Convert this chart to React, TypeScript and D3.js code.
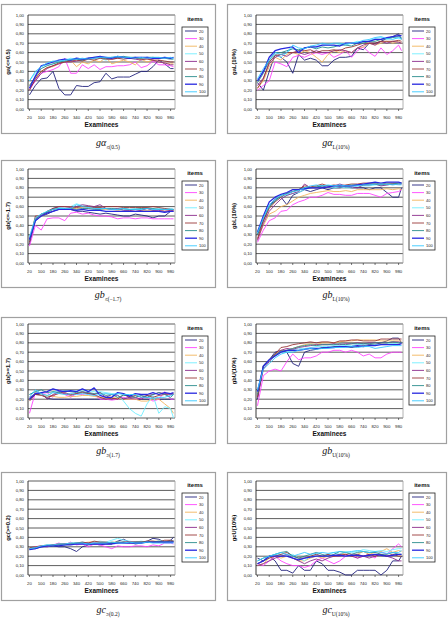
import * as d3 from "d3";
import { useEffect } from "react";

// examinees (category axis), every other category of the original
const examinees = [20, 60, 100, 140, 180, 220, 260, 300, 340, 380, 420, 460, 500, 540, 580, 620, 660, 700, 740, 780, 820, 860, 900, 940, 980, 1000];
const xTicks = [20, 100, 180, 260, 340, 420, 500, 580, 660, 740, 820, 900, 980];
const yTicks = [0, 0.1, 0.2, 0.3, 0.4, 0.5, 0.6, 0.7, 0.8, 0.9, 1.0];
const items = ["20", "30", "40", "50", "60", "70", "80", "90", "100"];
const colors = ["#22227e", "#ff44ff", "#f2b45c", "#70eeff", "#8c2c8c", "#9a3838", "#2a8c8c", "#2828e0", "#34c8ff"];
const widths = [0.9, 0.9, 0.9, 0.9, 0.9, 0.9, 0.9, 1.3, 0.9];

// ga(<=0.5)
const gaLe = [
  [0.15, 0.25, 0.32, 0.33, 0.40, 0.22, 0.15, 0.15, 0.25, 0.24, 0.24, 0.28, 0.29, 0.38, 0.32, 0.34, 0.34, 0.34, 0.37, 0.40, 0.40, 0.45, 0.52, 0.48, 0.43, 0.43],
  [0.20, 0.30, 0.38, 0.40, 0.42, 0.45, 0.54, 0.38, 0.38, 0.47, 0.43, 0.47, 0.42, 0.45, 0.45, 0.46, 0.46, 0.47, 0.50, 0.44, 0.46, 0.51, 0.47, 0.47, 0.46, 0.45],
  [0.25, 0.33, 0.40, 0.44, 0.45, 0.48, 0.50, 0.52, 0.45, 0.50, 0.48, 0.52, 0.50, 0.55, 0.48, 0.50, 0.52, 0.50, 0.47, 0.53, 0.50, 0.52, 0.50, 0.49, 0.48, 0.48],
  [0.30, 0.38, 0.45, 0.47, 0.48, 0.50, 0.52, 0.54, 0.53, 0.52, 0.54, 0.53, 0.54, 0.52, 0.54, 0.55, 0.54, 0.55, 0.54, 0.54, 0.55, 0.54, 0.54, 0.55, 0.54, 0.54],
  [0.22, 0.30, 0.38, 0.43, 0.46, 0.48, 0.50, 0.50, 0.51, 0.52, 0.53, 0.54, 0.55, 0.54, 0.53, 0.54, 0.55, 0.54, 0.53, 0.52, 0.54, 0.52, 0.50, 0.49, 0.47, 0.47],
  [0.20, 0.32, 0.40, 0.44, 0.46, 0.49, 0.50, 0.51, 0.52, 0.51, 0.53, 0.52, 0.54, 0.53, 0.53, 0.54, 0.53, 0.54, 0.54, 0.53, 0.53, 0.52, 0.52, 0.51, 0.50, 0.50],
  [0.25, 0.34, 0.43, 0.46, 0.48, 0.50, 0.51, 0.52, 0.53, 0.52, 0.54, 0.55, 0.55, 0.54, 0.55, 0.55, 0.56, 0.55, 0.55, 0.54, 0.55, 0.55, 0.54, 0.54, 0.53, 0.53],
  [0.22, 0.35, 0.46, 0.48, 0.50, 0.52, 0.53, 0.52, 0.54, 0.53, 0.54, 0.55, 0.56, 0.55, 0.54, 0.56, 0.55, 0.54, 0.55, 0.55, 0.55, 0.54, 0.54, 0.55, 0.54, 0.55],
  [0.30, 0.40, 0.45, 0.49, 0.51, 0.51, 0.52, 0.53, 0.53, 0.54, 0.53, 0.54, 0.55, 0.55, 0.55, 0.56, 0.55, 0.55, 0.54, 0.55, 0.54, 0.55, 0.55, 0.54, 0.55, 0.54],
];

// gaL(10%)
const gaL = [
  [0.28, 0.20, 0.40, 0.58, 0.55, 0.50, 0.38, 0.58, 0.52, 0.54, 0.52, 0.46, 0.46, 0.52, 0.55, 0.55, 0.56, 0.65, 0.63, 0.70, 0.70, 0.72, 0.75, 0.77, 0.80, 0.74],
  [0.20, 0.25, 0.30, 0.50, 0.48, 0.45, 0.55, 0.57, 0.55, 0.58, 0.60, 0.58, 0.60, 0.55, 0.58, 0.62, 0.55, 0.62, 0.66, 0.60, 0.56, 0.65, 0.58, 0.62, 0.68, 0.62],
  [0.22, 0.30, 0.45, 0.55, 0.52, 0.58, 0.60, 0.58, 0.62, 0.60, 0.55, 0.50, 0.58, 0.62, 0.60, 0.62, 0.60, 0.65, 0.66, 0.70, 0.68, 0.70, 0.72, 0.70, 0.72, 0.70],
  [0.30, 0.40, 0.50, 0.58, 0.55, 0.60, 0.65, 0.62, 0.65, 0.66, 0.65, 0.68, 0.68, 0.67, 0.69, 0.68, 0.70, 0.72, 0.70, 0.73, 0.75, 0.76, 0.74, 0.76, 0.75, 0.74],
  [0.25, 0.33, 0.48, 0.55, 0.58, 0.56, 0.60, 0.60, 0.58, 0.60, 0.62, 0.60, 0.60, 0.62, 0.63, 0.62, 0.60, 0.65, 0.68, 0.70, 0.68, 0.72, 0.70, 0.72, 0.71, 0.70],
  [0.22, 0.32, 0.50, 0.57, 0.58, 0.60, 0.60, 0.62, 0.62, 0.63, 0.60, 0.62, 0.62, 0.63, 0.62, 0.65, 0.66, 0.68, 0.70, 0.70, 0.70, 0.72, 0.72, 0.72, 0.73, 0.72],
  [0.28, 0.38, 0.52, 0.60, 0.60, 0.62, 0.64, 0.63, 0.65, 0.66, 0.64, 0.66, 0.65, 0.66, 0.68, 0.68, 0.67, 0.70, 0.70, 0.72, 0.72, 0.74, 0.75, 0.76, 0.77, 0.76],
  [0.30, 0.40, 0.55, 0.62, 0.64, 0.65, 0.66, 0.60, 0.65, 0.66, 0.66, 0.68, 0.68, 0.68, 0.67, 0.70, 0.70, 0.70, 0.72, 0.72, 0.74, 0.74, 0.76, 0.77, 0.78, 0.78],
  [0.32, 0.43, 0.52, 0.60, 0.58, 0.60, 0.68, 0.65, 0.64, 0.67, 0.68, 0.70, 0.69, 0.70, 0.70, 0.69, 0.70, 0.71, 0.73, 0.74, 0.76, 0.77, 0.75, 0.74, 0.76, 0.75],
];

// gb(<=-1.7)
const gbLe = [
  [0.20, 0.45, 0.50, 0.52, 0.55, 0.57, 0.58, 0.57, 0.55, 0.55, 0.54, 0.53, 0.52, 0.53, 0.52, 0.51, 0.50, 0.50, 0.52, 0.51, 0.50, 0.48, 0.50, 0.50, 0.55, 0.55],
  [0.18, 0.40, 0.35, 0.47, 0.48, 0.48, 0.45, 0.53, 0.54, 0.52, 0.53, 0.51, 0.50, 0.50, 0.49, 0.47, 0.48, 0.48, 0.47, 0.48, 0.48, 0.47, 0.47, 0.47, 0.47, 0.47],
  [0.25, 0.48, 0.50, 0.53, 0.57, 0.58, 0.58, 0.58, 0.58, 0.59, 0.58, 0.58, 0.58, 0.57, 0.57, 0.56, 0.57, 0.56, 0.57, 0.56, 0.56, 0.56, 0.57, 0.55, 0.56, 0.56],
  [0.25, 0.45, 0.50, 0.55, 0.58, 0.59, 0.60, 0.60, 0.63, 0.61, 0.60, 0.59, 0.58, 0.58, 0.57, 0.58, 0.57, 0.57, 0.58, 0.57, 0.58, 0.57, 0.58, 0.57, 0.58, 0.57],
  [0.22, 0.47, 0.52, 0.54, 0.58, 0.60, 0.60, 0.59, 0.60, 0.62, 0.61, 0.60, 0.62, 0.58, 0.57, 0.58, 0.56, 0.56, 0.55, 0.56, 0.58, 0.56, 0.56, 0.55, 0.56, 0.56],
  [0.22, 0.50, 0.50, 0.55, 0.58, 0.60, 0.60, 0.60, 0.59, 0.60, 0.60, 0.59, 0.59, 0.60, 0.60, 0.60, 0.59, 0.59, 0.59, 0.59, 0.59, 0.60, 0.59, 0.58, 0.57, 0.57],
  [0.24, 0.46, 0.52, 0.54, 0.57, 0.58, 0.58, 0.58, 0.57, 0.58, 0.58, 0.57, 0.57, 0.58, 0.58, 0.57, 0.58, 0.57, 0.57, 0.58, 0.58, 0.58, 0.57, 0.57, 0.57, 0.57],
  [0.25, 0.45, 0.50, 0.53, 0.55, 0.57, 0.57, 0.57, 0.56, 0.57, 0.56, 0.56, 0.56, 0.55, 0.55, 0.55, 0.55, 0.55, 0.55, 0.55, 0.55, 0.55, 0.55, 0.54, 0.55, 0.55],
  [0.28, 0.48, 0.52, 0.55, 0.57, 0.58, 0.58, 0.58, 0.62, 0.60, 0.59, 0.58, 0.58, 0.58, 0.57, 0.57, 0.58, 0.57, 0.57, 0.57, 0.58, 0.57, 0.57, 0.57, 0.57, 0.57],
];

// gbL(10%)
const gbL = [
  [0.30, 0.45, 0.60, 0.68, 0.70, 0.62, 0.72, 0.75, 0.78, 0.76, 0.78, 0.80, 0.78, 0.80, 0.80, 0.81, 0.80, 0.80, 0.80, 0.78, 0.80, 0.80, 0.75, 0.70, 0.70, 0.80],
  [0.22, 0.35, 0.45, 0.48, 0.55, 0.56, 0.62, 0.65, 0.67, 0.70, 0.70, 0.72, 0.75, 0.73, 0.73, 0.72, 0.72, 0.74, 0.74, 0.74, 0.72, 0.70, 0.74, 0.75, 0.76, 0.78],
  [0.25, 0.40, 0.52, 0.55, 0.60, 0.62, 0.66, 0.70, 0.72, 0.74, 0.75, 0.76, 0.77, 0.76, 0.76, 0.77, 0.76, 0.78, 0.78, 0.78, 0.78, 0.78, 0.79, 0.78, 0.79, 0.78],
  [0.32, 0.48, 0.60, 0.66, 0.70, 0.72, 0.74, 0.75, 0.78, 0.80, 0.81, 0.82, 0.80, 0.80, 0.81, 0.80, 0.80, 0.82, 0.82, 0.82, 0.83, 0.83, 0.83, 0.84, 0.83, 0.83],
  [0.24, 0.42, 0.55, 0.62, 0.68, 0.72, 0.74, 0.76, 0.84, 0.80, 0.80, 0.82, 0.80, 0.82, 0.84, 0.82, 0.81, 0.80, 0.83, 0.83, 0.84, 0.82, 0.83, 0.84, 0.84, 0.84],
  [0.26, 0.45, 0.58, 0.65, 0.70, 0.74, 0.76, 0.78, 0.82, 0.81, 0.82, 0.84, 0.82, 0.83, 0.82, 0.83, 0.84, 0.84, 0.85, 0.85, 0.85, 0.84, 0.85, 0.85, 0.85, 0.85],
  [0.30, 0.48, 0.60, 0.66, 0.72, 0.74, 0.76, 0.78, 0.80, 0.80, 0.81, 0.82, 0.82, 0.82, 0.82, 0.82, 0.83, 0.83, 0.83, 0.84, 0.84, 0.83, 0.84, 0.84, 0.85, 0.85],
  [0.33, 0.50, 0.65, 0.70, 0.73, 0.75, 0.78, 0.78, 0.79, 0.80, 0.80, 0.80, 0.81, 0.82, 0.82, 0.82, 0.82, 0.83, 0.84, 0.85, 0.86, 0.85, 0.86, 0.86, 0.86, 0.85],
  [0.32, 0.48, 0.62, 0.68, 0.72, 0.73, 0.76, 0.77, 0.80, 0.82, 0.83, 0.82, 0.83, 0.82, 0.83, 0.82, 0.82, 0.82, 0.83, 0.83, 0.84, 0.84, 0.84, 0.83, 0.84, 0.84],
];

// gb(>=1.7)
const gbGe = [
  [0.20, 0.25, 0.25, 0.21, 0.20, 0.20, 0.20, 0.20, 0.20, 0.20, 0.20, 0.20, 0.20, 0.20, 0.20, 0.21, 0.21, 0.21, 0.20, 0.20, 0.20, 0.20, 0.20, 0.20, 0.20, 0.20],
  [0.05, 0.27, 0.26, 0.27, 0.22, 0.30, 0.25, 0.22, 0.26, 0.25, 0.27, 0.25, 0.20, 0.20, 0.19, 0.20, 0.22, 0.20, 0.20, 0.21, 0.22, 0.18, 0.20, 0.28, 0.20, 0.20],
  [0.20, 0.27, 0.25, 0.24, 0.23, 0.22, 0.22, 0.23, 0.23, 0.24, 0.24, 0.23, 0.22, 0.22, 0.22, 0.21, 0.20, 0.20, 0.20, 0.18, 0.18, 0.20, 0.20, 0.15, 0.10, 0.05],
  [0.25, 0.28, 0.25, 0.22, 0.28, 0.28, 0.29, 0.28, 0.29, 0.30, 0.29, 0.28, 0.28, 0.27, 0.26, 0.25, 0.18, 0.10, 0.05, 0.02, 0.15, 0.24, 0.05, 0.12, 0.10, 0.00],
  [0.22, 0.25, 0.27, 0.20, 0.25, 0.28, 0.26, 0.24, 0.26, 0.28, 0.26, 0.25, 0.27, 0.22, 0.25, 0.24, 0.20, 0.22, 0.22, 0.20, 0.24, 0.25, 0.27, 0.26, 0.25, 0.25],
  [0.18, 0.25, 0.24, 0.22, 0.24, 0.26, 0.27, 0.25, 0.26, 0.27, 0.26, 0.25, 0.22, 0.20, 0.21, 0.20, 0.25, 0.22, 0.24, 0.22, 0.24, 0.22, 0.24, 0.25, 0.26, 0.26],
  [0.25, 0.28, 0.30, 0.27, 0.28, 0.27, 0.29, 0.28, 0.27, 0.28, 0.27, 0.26, 0.27, 0.24, 0.25, 0.22, 0.24, 0.24, 0.22, 0.24, 0.22, 0.25, 0.27, 0.25, 0.22, 0.25],
  [0.20, 0.26, 0.27, 0.28, 0.31, 0.29, 0.28, 0.29, 0.28, 0.31, 0.28, 0.32, 0.24, 0.22, 0.22, 0.27, 0.26, 0.23, 0.26, 0.25, 0.25, 0.27, 0.25, 0.27, 0.26, 0.27],
  [0.22, 0.30, 0.26, 0.24, 0.27, 0.26, 0.25, 0.26, 0.25, 0.26, 0.25, 0.24, 0.25, 0.26, 0.25, 0.26, 0.25, 0.25, 0.25, 0.22, 0.22, 0.21, 0.22, 0.22, 0.24, 0.25],
];

// gbU(10%)
const gbU = [
  [0.20, 0.55, 0.62, 0.70, 0.72, 0.70, 0.58, 0.55, 0.70, 0.72, 0.73, 0.75, 0.75, 0.76, 0.76, 0.76, 0.75, 0.76, 0.77, 0.78, 0.78, 0.80, 0.82, 0.85, 0.85, 0.80],
  [0.13, 0.45, 0.50, 0.52, 0.50, 0.60, 0.68, 0.62, 0.64, 0.64, 0.66, 0.70, 0.70, 0.72, 0.72, 0.70, 0.72, 0.70, 0.66, 0.68, 0.64, 0.64, 0.68, 0.70, 0.70, 0.70],
  [0.25, 0.55, 0.62, 0.68, 0.72, 0.72, 0.74, 0.76, 0.78, 0.79, 0.78, 0.80, 0.80, 0.80, 0.81, 0.82, 0.82, 0.83, 0.83, 0.83, 0.83, 0.82, 0.82, 0.82, 0.82, 0.82],
  [0.28, 0.54, 0.60, 0.66, 0.70, 0.70, 0.72, 0.74, 0.74, 0.75, 0.76, 0.76, 0.76, 0.77, 0.77, 0.77, 0.77, 0.78, 0.78, 0.77, 0.78, 0.78, 0.79, 0.79, 0.80, 0.80],
  [0.22, 0.52, 0.60, 0.67, 0.72, 0.74, 0.73, 0.75, 0.76, 0.77, 0.78, 0.78, 0.78, 0.79, 0.78, 0.79, 0.79, 0.80, 0.79, 0.80, 0.80, 0.80, 0.80, 0.81, 0.81, 0.80],
  [0.22, 0.55, 0.62, 0.68, 0.75, 0.76, 0.78, 0.79, 0.80, 0.81, 0.80, 0.81, 0.81, 0.80, 0.82, 0.82, 0.83, 0.83, 0.82, 0.82, 0.82, 0.84, 0.84, 0.84, 0.84, 0.84],
  [0.25, 0.56, 0.62, 0.67, 0.71, 0.72, 0.74, 0.76, 0.77, 0.78, 0.77, 0.78, 0.78, 0.78, 0.79, 0.78, 0.79, 0.79, 0.79, 0.79, 0.80, 0.80, 0.80, 0.81, 0.80, 0.80],
  [0.28, 0.55, 0.62, 0.66, 0.70, 0.72, 0.72, 0.72, 0.73, 0.74, 0.74, 0.74, 0.75, 0.75, 0.76, 0.76, 0.76, 0.77, 0.76, 0.77, 0.77, 0.78, 0.78, 0.78, 0.78, 0.79],
  [0.30, 0.52, 0.58, 0.64, 0.68, 0.70, 0.70, 0.72, 0.73, 0.74, 0.73, 0.74, 0.74, 0.75, 0.75, 0.75, 0.76, 0.75, 0.76, 0.76, 0.74, 0.75, 0.76, 0.77, 0.77, 0.77],
];

// gc(>=0.2)
const gcGe = [
  [0.28, 0.28, 0.30, 0.30, 0.31, 0.30, 0.30, 0.28, 0.25, 0.30, 0.32, 0.33, 0.32, 0.33, 0.33, 0.36, 0.38, 0.35, 0.33, 0.34, 0.36, 0.39, 0.38, 0.35, 0.37, 0.40],
  [0.28, 0.30, 0.31, 0.30, 0.32, 0.34, 0.32, 0.35, 0.32, 0.33, 0.30, 0.33, 0.32, 0.30, 0.28, 0.31, 0.30, 0.30, 0.31, 0.31, 0.30, 0.32, 0.31, 0.34, 0.34, 0.33],
  [0.28, 0.29, 0.31, 0.32, 0.32, 0.33, 0.33, 0.34, 0.34, 0.34, 0.35, 0.35, 0.35, 0.34, 0.35, 0.35, 0.34, 0.35, 0.35, 0.35, 0.36, 0.36, 0.36, 0.36, 0.36, 0.36],
  [0.27, 0.29, 0.30, 0.32, 0.32, 0.33, 0.33, 0.34, 0.34, 0.35, 0.34, 0.35, 0.36, 0.35, 0.37, 0.39, 0.37, 0.36, 0.35, 0.36, 0.35, 0.35, 0.36, 0.36, 0.35, 0.35],
  [0.27, 0.29, 0.30, 0.31, 0.32, 0.32, 0.33, 0.33, 0.33, 0.34, 0.34, 0.34, 0.34, 0.34, 0.34, 0.34, 0.35, 0.35, 0.35, 0.35, 0.35, 0.35, 0.35, 0.35, 0.35, 0.36],
  [0.29, 0.30, 0.31, 0.31, 0.32, 0.33, 0.33, 0.33, 0.34, 0.35, 0.34, 0.36, 0.35, 0.35, 0.34, 0.34, 0.35, 0.35, 0.35, 0.35, 0.36, 0.36, 0.35, 0.37, 0.37, 0.36],
  [0.28, 0.29, 0.30, 0.31, 0.31, 0.32, 0.32, 0.33, 0.34, 0.34, 0.33, 0.33, 0.34, 0.34, 0.34, 0.35, 0.35, 0.34, 0.35, 0.35, 0.35, 0.35, 0.36, 0.35, 0.36, 0.36],
  [0.27, 0.28, 0.30, 0.31, 0.31, 0.31, 0.32, 0.32, 0.33, 0.33, 0.33, 0.33, 0.33, 0.33, 0.33, 0.34, 0.34, 0.34, 0.34, 0.34, 0.35, 0.35, 0.35, 0.35, 0.35, 0.35],
  [0.28, 0.29, 0.31, 0.32, 0.32, 0.33, 0.33, 0.34, 0.34, 0.34, 0.33, 0.34, 0.34, 0.34, 0.35, 0.34, 0.34, 0.35, 0.34, 0.34, 0.35, 0.34, 0.34, 0.34, 0.34, 0.34],
];

// gcU(10%)
const gcU = [
  [0.18, 0.15, 0.20, 0.15, 0.05, 0.05, 0.02, 0.10, 0.05, 0.05, 0.15, 0.12, 0.05, 0.05, 0.03, 0.00, 0.00, 0.05, 0.05, 0.05, 0.05, 0.00, 0.05, 0.15, 0.15, 0.20],
  [0.12, 0.10, 0.15, 0.20, 0.15, 0.12, 0.10, 0.10, 0.08, 0.10, 0.15, 0.18, 0.15, 0.12, 0.15, 0.20, 0.22, 0.18, 0.20, 0.22, 0.18, 0.25, 0.22, 0.28, 0.33, 0.30],
  [0.10, 0.12, 0.18, 0.20, 0.18, 0.20, 0.18, 0.15, 0.15, 0.18, 0.20, 0.18, 0.20, 0.20, 0.22, 0.24, 0.22, 0.22, 0.25, 0.22, 0.24, 0.25, 0.28, 0.24, 0.26, 0.25],
  [0.12, 0.15, 0.18, 0.22, 0.22, 0.20, 0.22, 0.18, 0.15, 0.20, 0.22, 0.20, 0.22, 0.24, 0.22, 0.25, 0.24, 0.25, 0.27, 0.26, 0.25, 0.26, 0.25, 0.27, 0.28, 0.28],
  [0.10, 0.12, 0.15, 0.18, 0.20, 0.22, 0.18, 0.15, 0.12, 0.15, 0.17, 0.15, 0.18, 0.20, 0.20, 0.22, 0.20, 0.18, 0.20, 0.18, 0.20, 0.22, 0.20, 0.18, 0.15, 0.15],
  [0.12, 0.15, 0.18, 0.20, 0.22, 0.24, 0.20, 0.18, 0.18, 0.20, 0.22, 0.20, 0.22, 0.20, 0.22, 0.22, 0.20, 0.22, 0.20, 0.22, 0.20, 0.22, 0.20, 0.22, 0.20, 0.20],
  [0.15, 0.18, 0.20, 0.22, 0.24, 0.25, 0.20, 0.18, 0.20, 0.22, 0.24, 0.22, 0.20, 0.22, 0.25, 0.24, 0.22, 0.24, 0.25, 0.24, 0.24, 0.22, 0.22, 0.24, 0.22, 0.22],
  [0.12, 0.15, 0.20, 0.20, 0.20, 0.20, 0.18, 0.16, 0.18, 0.19, 0.20, 0.20, 0.20, 0.21, 0.21, 0.20, 0.21, 0.21, 0.20, 0.21, 0.22, 0.21, 0.20, 0.21, 0.22, 0.22],
  [0.15, 0.18, 0.20, 0.22, 0.24, 0.22, 0.20, 0.22, 0.24, 0.22, 0.23, 0.24, 0.23, 0.24, 0.25, 0.24, 0.25, 0.26, 0.25, 0.24, 0.25, 0.24, 0.23, 0.24, 0.24, 0.26],
];

const yLabels = ["ga(<=0.5)", "gaL(10%)", "gb(<=-1.7)", "gbL(10%)", "gb(>=1.7)", "gbU(10%)", "gc(>=0.2)", "gcU(10%)"];
const capMain = ["gα", "gα", "gb", "gb", "gb", "gb", "gc", "gc"];
const capSub = ["≤(0.5)", "L(10%)", "≤(−1.7)", "L(10%)", "≥(1.7)", "U(10%)", "≥(0.2)", "U(10%)"];
const panelData = [gaLe, gaL, gbLe, gbL, gbGe, gbU, gcGe, gcU];

const rowTop = [4, 160, 317, 472];
const rowH = [129, 127, 126, 128];
const plotTop = [15, 169, 324, 481];
const capY = [146, 298, 454, 613];

const fmt = (v: number) => v.toFixed(2).replace(".", ",");

function Panel({ idx }: { idx: number }) {
  const col = idx % 2;
  const row = Math.floor(idx / 2);
  const boxX = col ? 227 : 1;
  const boxW = col ? 219 : 214;
  const left = col ? 256 : 28;
  const pw = 147;
  const top = plotTop[row];
  const ph = 94;
  const bottom = top + ph;

  const x = d3.scaleLinear().domain([10, 1010]).range([left, left + pw]);
  const y = d3.scaleLinear().domain([0, 1]).range([bottom, top]);
  const line = d3
    .line<number>()
    .x((_, i) => x(examinees[i]))
    .y(d => y(d));

  const legX = col ? 409 : 182;
  const legY = top + 12;

  return (
    <g>
      <rect x={boxX + 0.5} y={rowTop[row] + 0.5} width={boxW} height={rowH[row]} fill="#fff" stroke="#a0a0a0" strokeWidth={1.2} />

      {/* grid */}
      {yTicks.map((t, i) => (
        <g key={i}>
          <line x1={left} x2={left + pw} y1={y(t)} y2={y(t)} stroke="#333" strokeWidth={0.8} />
          <text x={left - 4} y={y(t) + 1.5} fontSize={4.3} textAnchor="end" fill="#222" fontFamily="Liberation Sans">
            {fmt(t)}
          </text>
        </g>
      ))}
      <line x1={left} x2={left} y1={top} y2={bottom} stroke="#222" strokeWidth={0.9} />
      <line x1={left + pw} x2={left + pw} y1={top} y2={bottom} stroke="#a0a0a0" strokeWidth={0.8} />

      {/* x ticks */}
      {xTicks.map((t, i) => (
        <g key={i}>
          <line x1={x(t)} x2={x(t)} y1={bottom} y2={bottom + 2} stroke="#222" strokeWidth={0.6} />
          <text x={x(t)} y={bottom + 10} fontSize={4.3} textAnchor="middle" fill="#222" fontFamily="Liberation Sans">
            {t}
          </text>
        </g>
      ))}

      {/* lines */}
      {panelData[idx].map((s, i) => (
        <path key={i} d={line(s) || ""} fill="none" stroke={colors[i]} strokeWidth={widths[i]} strokeLinejoin="round" />
      ))}

      {/* axis titles */}
      <text x={left + pw / 2} y={bottom + 18} fontSize={6.5} fontWeight="bold" textAnchor="middle" fontFamily="Liberation Sans" fill="#111">
        Examinees
      </text>
      <text
        transform={`translate(${boxX + 9},${(top + bottom) / 2}) rotate(-90)`}
        fontSize={5.8}
        fontWeight="bold"
        textAnchor="middle"
        fontFamily="Liberation Sans"
        fill="#111"
      >
        {yLabels[idx]}
      </text>

      {/* legend */}
      <text x={legX + 13} y={top + 6} fontSize={6} fontWeight="bold" textAnchor="middle" fontFamily="Liberation Sans" fill="#111">
        items
      </text>
      <rect x={legX} y={legY} width={26} height={69} fill="#fff" stroke="#222" strokeWidth={0.8} />
      {items.map((it, i) => (
        <g key={it}>
          <line x1={legX + 3} x2={legX + 15} y1={legY + 4 + i * 7.6} y2={legY + 4 + i * 7.6} stroke={colors[i]} strokeWidth={widths[i]} />
          <text x={legX + 17} y={legY + 5.5 + i * 7.6} fontSize={4} fill="#222" fontFamily="Liberation Sans">
            {it}
          </text>
        </g>
      ))}

      {/* caption */}
      <text x={col ? 336 : 108} y={capY[row]} textAnchor="middle" fontFamily="Liberation Serif" fill="#111">
        <tspan fontSize={10} fontStyle="italic">{capMain[idx]}</tspan>
        <tspan fontSize={5.5} dy={2.5}>{capSub[idx]}</tspan>
      </text>
    </g>
  );
}

export default function App() {
  useEffect(() => {
    document.body.style.margin = "0";
  }, []);
  return (
    <svg width={448} height={623} style={{ position: "absolute", left: 0, top: 0, background: "#fff" }}>
      {[0, 1, 2, 3, 4, 5, 6, 7].map(i => (
        <Panel key={i} idx={i} />
      ))}
    </svg>
  );
}
